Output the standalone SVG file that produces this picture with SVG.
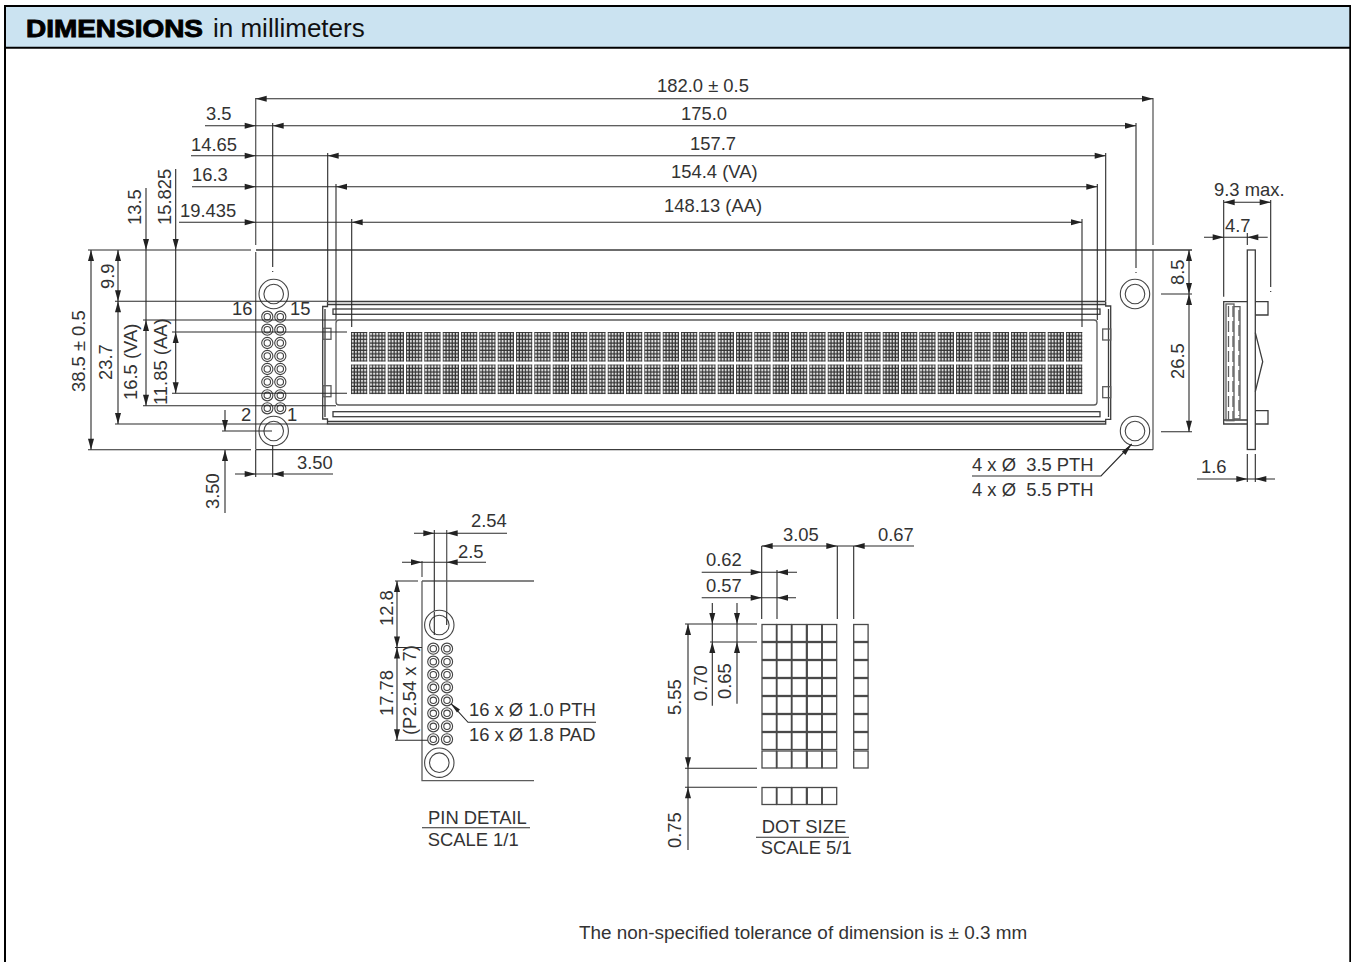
<svg xmlns="http://www.w3.org/2000/svg" width="1351" height="962" viewBox="0 0 1351 962">
<style>
text{font-family:"Liberation Sans",Arial,sans-serif;font-size:18.4px;fill:#333;white-space:pre}
.l{fill:none;stroke:#2a2a2a;stroke-width:1.1}
.g{fill:none;stroke:#5c5c5c;stroke-width:1.3}
.h{fill:none;stroke:#3c3c3c;stroke-width:1.3}
.c{fill:#fff;stroke:#444;stroke-width:1.1}
.d{fill:#fff;stroke:#4a4a4a;stroke-width:1.3}
</style>
<defs>
<path id="aL" d="M0 0L11 -3V3Z" fill="#222"/>
<path id="aR" d="M0 0L-11 -3V3Z" fill="#222"/>
<path id="aU" d="M0 0L-3 11H3Z" fill="#222"/>
<path id="aD" d="M0 0L-3 -11H3Z" fill="#222"/>
<pattern id="dots" width="3.1" height="3.6" patternUnits="userSpaceOnUse" x="0" y="0"><rect width="3.1" height="3.6" fill="#333"/><rect x="0.9" y="0.9" width="1.8" height="2.3" fill="#eee"/></pattern>
<g id="pin"><circle r="5.6" class="c"/><circle r="3.2" class="c"/></g>
<g id="hole"><circle r="14.7" class="c"/><circle r="9.8" class="c"/></g>
<g id="ch"><rect width="16.3" height="29.6" fill="url(#dots)"/></g>
<g id="cell"><rect width="14.4" height="17" class="d"/></g>
</defs>
<rect x="0" y="0" width="1351" height="962" fill="#fff"/>
<g id="header"><rect x="5" y="6" width="1345" height="41.5" fill="#cbe3f1"/>
<path d="M5 962V6H1350.3V962" fill="none" stroke="#000" stroke-width="2"/><path d="M5 47.7H1350" fill="none" stroke="#000" stroke-width="2"/>
<text x="26" y="37" textLength="177" lengthAdjust="spacingAndGlyphs" style="font-size:24px;font-weight:bold;stroke:#000;stroke-width:.9;fill:#000">DIMENSIONS</text><text x="213" y="37" style="font-size:26px;fill:#111">in millimeters</text></g>

<g id="main-view">
<path class="g" d="M255.7 245V98M1153 245V98M255.7 252V449.7M1153 250V449.7"/>
<path class="h" d="M256 250H1192M256 449.7H1153"/>
<path class="l" d="M88 250H251M88 449.7H251"/>
<use href="#hole" x="273.7" y="294"/><use href="#hole" x="273.7" y="431"/><use href="#hole" x="1135" y="294"/><use href="#hole" x="1135" y="431"/>
<g id="pins">
<use href="#pin" x="267.3" y="316.7"/><use href="#pin" x="280.3" y="316.7"/><use href="#pin" x="267.3" y="329.7"/><use href="#pin" x="280.3" y="329.7"/><use href="#pin" x="267.3" y="343"/><use href="#pin" x="280.3" y="343"/><use href="#pin" x="267.3" y="356"/><use href="#pin" x="280.3" y="356"/><use href="#pin" x="267.3" y="369"/><use href="#pin" x="280.3" y="369"/><use href="#pin" x="267.3" y="382"/><use href="#pin" x="280.3" y="382"/><use href="#pin" x="267.3" y="395.3"/><use href="#pin" x="280.3" y="395.3"/><use href="#pin" x="267.3" y="408.3"/><use href="#pin" x="280.3" y="408.3"/>
</g>
<g id="lcd">
<path class="h" d="M327.5 301.5H1105.7M327.5 304.5H1105.7M327.5 301.5V306.5H322.7V419H327.5V424H1105.7V419.3H1110.7V306H1105.7V301.5M325 309V417M1108.5 309V417M327.5 421.5H1105.7"/>
<rect class="h" x="333" y="309" width="767" height="5.3"/>
<rect class="h" x="333" y="411.7" width="767" height="5"/>
<path class="g" d="M336 323V402Q336 405 339 405H1094Q1097 405 1097 402V323Q1097 320 1094 320H339Q336 320 336 323Z"/>
<rect class="g" x="323" y="328.3" width="8" height="11"/><rect class="g" x="323" y="385.7" width="8" height="11"/>
<rect class="g" x="1102.7" y="329" width="8" height="11"/><rect class="g" x="1102.7" y="386.7" width="8" height="11"/>
<g id="chars"><use href="#ch" x="351" y="332"/><use href="#ch" x="369.3" y="332"/><use href="#ch" x="387.7" y="332"/><use href="#ch" x="406" y="332"/><use href="#ch" x="424.3" y="332"/><use href="#ch" x="442.7" y="332"/><use href="#ch" x="461" y="332"/><use href="#ch" x="479.3" y="332"/><use href="#ch" x="497.7" y="332"/><use href="#ch" x="516" y="332"/><use href="#ch" x="534.3" y="332"/><use href="#ch" x="552.7" y="332"/><use href="#ch" x="571" y="332"/><use href="#ch" x="589.3" y="332"/><use href="#ch" x="607.7" y="332"/><use href="#ch" x="626" y="332"/><use href="#ch" x="644.3" y="332"/><use href="#ch" x="662.7" y="332"/><use href="#ch" x="681" y="332"/><use href="#ch" x="699.3" y="332"/><use href="#ch" x="717.7" y="332"/><use href="#ch" x="736" y="332"/><use href="#ch" x="754.3" y="332"/><use href="#ch" x="772.7" y="332"/><use href="#ch" x="791" y="332"/><use href="#ch" x="809.3" y="332"/><use href="#ch" x="827.7" y="332"/><use href="#ch" x="846" y="332"/><use href="#ch" x="864.3" y="332"/><use href="#ch" x="882.7" y="332"/><use href="#ch" x="901" y="332"/><use href="#ch" x="919.3" y="332"/><use href="#ch" x="937.7" y="332"/><use href="#ch" x="956" y="332"/><use href="#ch" x="974.3" y="332"/><use href="#ch" x="992.7" y="332"/><use href="#ch" x="1011" y="332"/><use href="#ch" x="1029.3" y="332"/><use href="#ch" x="1047.7" y="332"/><use href="#ch" x="1066" y="332"/>
<use href="#ch" x="351" y="364.5"/><use href="#ch" x="369.3" y="364.5"/><use href="#ch" x="387.7" y="364.5"/><use href="#ch" x="406" y="364.5"/><use href="#ch" x="424.3" y="364.5"/><use href="#ch" x="442.7" y="364.5"/><use href="#ch" x="461" y="364.5"/><use href="#ch" x="479.3" y="364.5"/><use href="#ch" x="497.7" y="364.5"/><use href="#ch" x="516" y="364.5"/><use href="#ch" x="534.3" y="364.5"/><use href="#ch" x="552.7" y="364.5"/><use href="#ch" x="571" y="364.5"/><use href="#ch" x="589.3" y="364.5"/><use href="#ch" x="607.7" y="364.5"/><use href="#ch" x="626" y="364.5"/><use href="#ch" x="644.3" y="364.5"/><use href="#ch" x="662.7" y="364.5"/><use href="#ch" x="681" y="364.5"/><use href="#ch" x="699.3" y="364.5"/><use href="#ch" x="717.7" y="364.5"/><use href="#ch" x="736" y="364.5"/><use href="#ch" x="754.3" y="364.5"/><use href="#ch" x="772.7" y="364.5"/><use href="#ch" x="791" y="364.5"/><use href="#ch" x="809.3" y="364.5"/><use href="#ch" x="827.7" y="364.5"/><use href="#ch" x="846" y="364.5"/><use href="#ch" x="864.3" y="364.5"/><use href="#ch" x="882.7" y="364.5"/><use href="#ch" x="901" y="364.5"/><use href="#ch" x="919.3" y="364.5"/><use href="#ch" x="937.7" y="364.5"/><use href="#ch" x="956" y="364.5"/><use href="#ch" x="974.3" y="364.5"/><use href="#ch" x="992.7" y="364.5"/><use href="#ch" x="1011" y="364.5"/><use href="#ch" x="1029.3" y="364.5"/><use href="#ch" x="1047.7" y="364.5"/><use href="#ch" x="1066" y="364.5"/></g>
</g>
<text x="232" y="315">16</text><text x="290" y="315">15</text><text x="241" y="421">2</text><text x="287" y="421">1</text>
</g>

<g id="side-view">
<rect class="h" x="1247.3" y="250" width="8" height="199.5"/>
<path class="h" d="M1247.3 301.7H1223.7V424H1247.3M1223.7 420H1247.3M1255.3 301.7H1268V315H1255.3M1255.3 410.7H1268V424H1255.3M1255.3 332.7L1262.7 361.7L1255.3 391.7"/>
<rect class="g" x="1226" y="304" width="8" height="116.7"/>
<path class="g" d="M1234 306.7H1240V419H1234"/>
<path class="g" stroke-dasharray="11 4" d="M1228.5 306V420M1233 306V420M1239 310V416"/>
</g>

<g id="connectors">
<g class="l">
<path d="M255.7 98.7H1153"/><path d="M205 125.7H1136"/><path d="M191 155.7H1105.7"/><path d="M192 186.7H1097.3"/><path d="M179 222.3H1082"/>
<path d="M272.7 123V267M272.7 271V272M1136 123V268M1136 272V273"/>
<path d="M327.7 153V301M1105.7 153V301M336 184V320M1097.3 184V320M351.7 219V327M1082 219V327"/>
<path d="M146 188V405.7M175.7 169V393.3M118 250V424M91 250V449.7"/>
<path d="M115 301.3H327M143 320H336M172 332H347M172 393.3H347M143 405.7H336M115 424H327"/>
<path d="M225 410V431M225 450V513M222 431H272M235 474H333M255.7 450V477M272.7 445V477"/>
<path d="M1189 250V431.7M1161 294H1192M1161 431.7H1192"/>
<path d="M972 476H1101L1131.7 444"/>
<path d="M1223.7 200V296.7M1270.7 200V287M1270.7 291V292M1223.7 202.3H1270.7M1204 237.3H1267.7M1247.3 233V245M1197 479H1275M1247.3 454V482M1255.3 454V482"/>
</g>
<use href="#aR" x="1153" y="98.7"/><use href="#aL" x="255.7" y="98.7"/>
<use href="#aR" x="255.7" y="125.7"/><use href="#aL" x="272.7" y="125.7"/><use href="#aR" x="1136" y="125.7"/>
<use href="#aR" x="255.7" y="155.7"/><use href="#aL" x="327.7" y="155.7"/><use href="#aR" x="1105.7" y="155.7"/>
<use href="#aR" x="255.7" y="186.7"/><use href="#aL" x="336" y="186.7"/><use href="#aR" x="1097.3" y="186.7"/>
<use href="#aR" x="255.7" y="222.3"/><use href="#aL" x="351.7" y="222.3"/><use href="#aR" x="1082" y="222.3"/>
<use href="#aD" x="146" y="250"/><use href="#aD" x="175.7" y="250"/>
<use href="#aU" x="91" y="250"/><use href="#aD" x="91" y="449.7"/>
<use href="#aU" x="118" y="250"/><use href="#aD" x="118" y="301.3"/><use href="#aU" x="118" y="301.3"/><use href="#aD" x="118" y="424"/>
<use href="#aU" x="146" y="320"/><use href="#aD" x="146" y="405.7"/>
<use href="#aU" x="175.7" y="332"/><use href="#aD" x="175.7" y="393.3"/>
<use href="#aD" x="225" y="431"/><use href="#aU" x="225" y="450"/>
<use href="#aR" x="255.7" y="474"/><use href="#aL" x="272.7" y="474"/>
<use href="#aU" x="1189" y="250"/><use href="#aD" x="1189" y="294"/><use href="#aU" x="1189" y="294"/><use href="#aD" x="1189" y="431.7"/>
<path d="M1131.7 444L1122 451.5L1125.5 455Z" fill="#222"/>
<use href="#aL" x="1223.7" y="202.3"/><use href="#aR" x="1270.7" y="202.3"/>
<use href="#aR" x="1223.7" y="237.3"/><use href="#aL" x="1247.3" y="237.3"/>
<use href="#aR" x="1247.3" y="479"/><use href="#aL" x="1255.3" y="479"/>
</g>

<g id="main-labels">
<text x="657" y="92">182.0 ± 0.5</text><text x="681" y="120">175.0</text><text x="690" y="150">157.7</text><text x="671" y="178">154.4 (VA)</text><text x="664" y="212">148.13 (AA)</text>
<text x="206" y="120">3.5</text><text x="191" y="151">14.65</text><text x="192" y="181">16.3</text><text x="180" y="217">19.435</text>
<text transform="translate(141 225) rotate(-90)">13.5</text><text transform="translate(171 225) rotate(-90)">15.825</text>
<text transform="translate(114 289) rotate(-90)">9.9</text><text transform="translate(85 392) rotate(-90)">38.5 ± 0.5</text><text transform="translate(112 380) rotate(-90)">23.7</text><text transform="translate(137 400) rotate(-90)">16.5 (VA)</text><text transform="translate(167 405) rotate(-90)">11.85 (AA)</text>
<text transform="translate(219 509) rotate(-90)">3.50</text><text x="297" y="469">3.50</text>
<text transform="translate(1184 285) rotate(-90)">8.5</text><text transform="translate(1184 379) rotate(-90)">26.5</text>
<text x="972" y="471">4 x Ø  3.5 PTH</text><text x="972" y="496">4 x Ø  5.5 PTH</text>
<text x="1214" y="196">9.3 max.</text><text x="1225" y="232">4.7</text><text x="1201" y="473">1.6</text>
</g>

<g id="pin-detail">
<path class="g" d="M422 561V577M422 581V780.7H534M422 581H534M446.7 530V612"/>
<path class="l" d="M434.3 530V635M414 533.3H507M402 562.3H486M397 581V740.3M395 581H418M395 647.5H422M395 740.3H433M450.7 703.3L468 722.3H596"/>
<use href="#hole" x="439.3" y="625"/><use href="#hole" x="439.3" y="762.7"/>
<use href="#pin" x="433.3" y="648.7"/><use href="#pin" x="447" y="648.7"/><use href="#pin" x="433.3" y="661.7"/><use href="#pin" x="447" y="661.7"/><use href="#pin" x="433.3" y="674.7"/><use href="#pin" x="447" y="674.7"/><use href="#pin" x="433.3" y="687.3"/><use href="#pin" x="447" y="687.3"/><use href="#pin" x="433.3" y="700.3"/><use href="#pin" x="447" y="700.3"/><use href="#pin" x="433.3" y="713.3"/><use href="#pin" x="447" y="713.3"/><use href="#pin" x="433.3" y="726.3"/><use href="#pin" x="447" y="726.3"/><use href="#pin" x="433.3" y="739.3"/><use href="#pin" x="447" y="739.3"/>
<path class="l" d="M434.3 612V635M446.7 612V625"/>
<use href="#aR" x="434.3" y="533.3"/><use href="#aL" x="446.7" y="533.3"/><use href="#aR" x="422" y="562.3"/><use href="#aL" x="446.7" y="562.3"/>
<use href="#aU" x="397" y="581"/><use href="#aD" x="397" y="647.5"/><use href="#aU" x="397" y="647.5"/><use href="#aD" x="397" y="740.3"/>
<path d="M450.7 703.3L457 712.5L460 709.5Z" fill="#222"/>
<text x="471" y="527">2.54</text><text x="458" y="558">2.5</text><text transform="translate(393 626) rotate(-90)">12.8</text><text transform="translate(393 716) rotate(-90)">17.78</text><text transform="translate(416 735) rotate(-90)">(P2.54 x 7)</text>
<text x="469" y="716">16 x Ø 1.0 PTH</text><text x="469" y="741">16 x Ø 1.8 PAD</text>
<text x="428" y="824">PIN DETAIL</text><path class="l" d="M422 827.7H530"/><text x="427.7" y="846">SCALE 1/1</text>
</g>

<g id="dot-detail">
<g id="cells">
<use href="#cell" x="762" y="624.5"/><use href="#cell" x="777" y="624.5"/><use href="#cell" x="792" y="624.5"/><use href="#cell" x="807.3" y="624.5"/><use href="#cell" x="822.3" y="624.5"/><use href="#cell" x="853.7" y="624.5"/>
<use href="#cell" x="762" y="642.5"/><use href="#cell" x="777" y="642.5"/><use href="#cell" x="792" y="642.5"/><use href="#cell" x="807.3" y="642.5"/><use href="#cell" x="822.3" y="642.5"/><use href="#cell" x="853.7" y="642.5"/>
<use href="#cell" x="762" y="660.5"/><use href="#cell" x="777" y="660.5"/><use href="#cell" x="792" y="660.5"/><use href="#cell" x="807.3" y="660.5"/><use href="#cell" x="822.3" y="660.5"/><use href="#cell" x="853.7" y="660.5"/>
<use href="#cell" x="762" y="678.5"/><use href="#cell" x="777" y="678.5"/><use href="#cell" x="792" y="678.5"/><use href="#cell" x="807.3" y="678.5"/><use href="#cell" x="822.3" y="678.5"/><use href="#cell" x="853.7" y="678.5"/>
<use href="#cell" x="762" y="696.5"/><use href="#cell" x="777" y="696.5"/><use href="#cell" x="792" y="696.5"/><use href="#cell" x="807.3" y="696.5"/><use href="#cell" x="822.3" y="696.5"/><use href="#cell" x="853.7" y="696.5"/>
<use href="#cell" x="762" y="714.5"/><use href="#cell" x="777" y="714.5"/><use href="#cell" x="792" y="714.5"/><use href="#cell" x="807.3" y="714.5"/><use href="#cell" x="822.3" y="714.5"/><use href="#cell" x="853.7" y="714.5"/>
<use href="#cell" x="762" y="732.5"/><use href="#cell" x="777" y="732.5"/><use href="#cell" x="792" y="732.5"/><use href="#cell" x="807.3" y="732.5"/><use href="#cell" x="822.3" y="732.5"/><use href="#cell" x="853.7" y="732.5"/>
<use href="#cell" x="762" y="751"/><use href="#cell" x="777" y="751"/><use href="#cell" x="792" y="751"/><use href="#cell" x="807.3" y="751"/><use href="#cell" x="822.3" y="751"/><use href="#cell" x="853.7" y="751"/>
<use href="#cell" x="762" y="787.5"/><use href="#cell" x="777" y="787.5"/><use href="#cell" x="792" y="787.5"/><use href="#cell" x="807.3" y="787.5"/><use href="#cell" x="822.3" y="787.5"/>
</g>
<path class="l" d="M761.7 546H914M761.7 546V619M837.3 546V619M853.7 546V619M777 570V619M701.7 572.3H797M701.7 597.7H796M712.3 603V705.7M737 603V703.7M688 624V850M685 624H757M710 642H757M685 768.3H757M685 787.3H757"/>
<use href="#aL" x="761.7" y="546"/><use href="#aR" x="837.3" y="546"/><use href="#aL" x="853.7" y="546"/>
<use href="#aR" x="761.7" y="572.3"/><use href="#aL" x="777" y="572.3"/><use href="#aR" x="761.7" y="597.7"/><use href="#aL" x="777" y="597.7"/>
<use href="#aD" x="712.3" y="624"/><use href="#aU" x="712.3" y="642"/><use href="#aD" x="737" y="624"/><use href="#aU" x="737" y="642"/>
<use href="#aU" x="688" y="624"/><use href="#aD" x="688" y="768.3"/><use href="#aU" x="688" y="787.3"/>
<text x="783" y="541">3.05</text><text x="878" y="541">0.67</text><text x="706" y="566">0.62</text><text x="706" y="592">0.57</text>
<text transform="translate(681 715) rotate(-90)">5.55</text><text transform="translate(707 701) rotate(-90)">0.70</text><text transform="translate(731 699) rotate(-90)">0.65</text><text transform="translate(681 848) rotate(-90)">0.75</text>
<text x="761.7" y="833">DOT SIZE</text><path class="l" d="M756 837.3H849"/><text x="760.7" y="854">SCALE 5/1</text>
</g>
<text x="579" y="939" style="font-size:18.9px">The non-specified tolerance of dimension is ± 0.3 mm</text>
</svg>
